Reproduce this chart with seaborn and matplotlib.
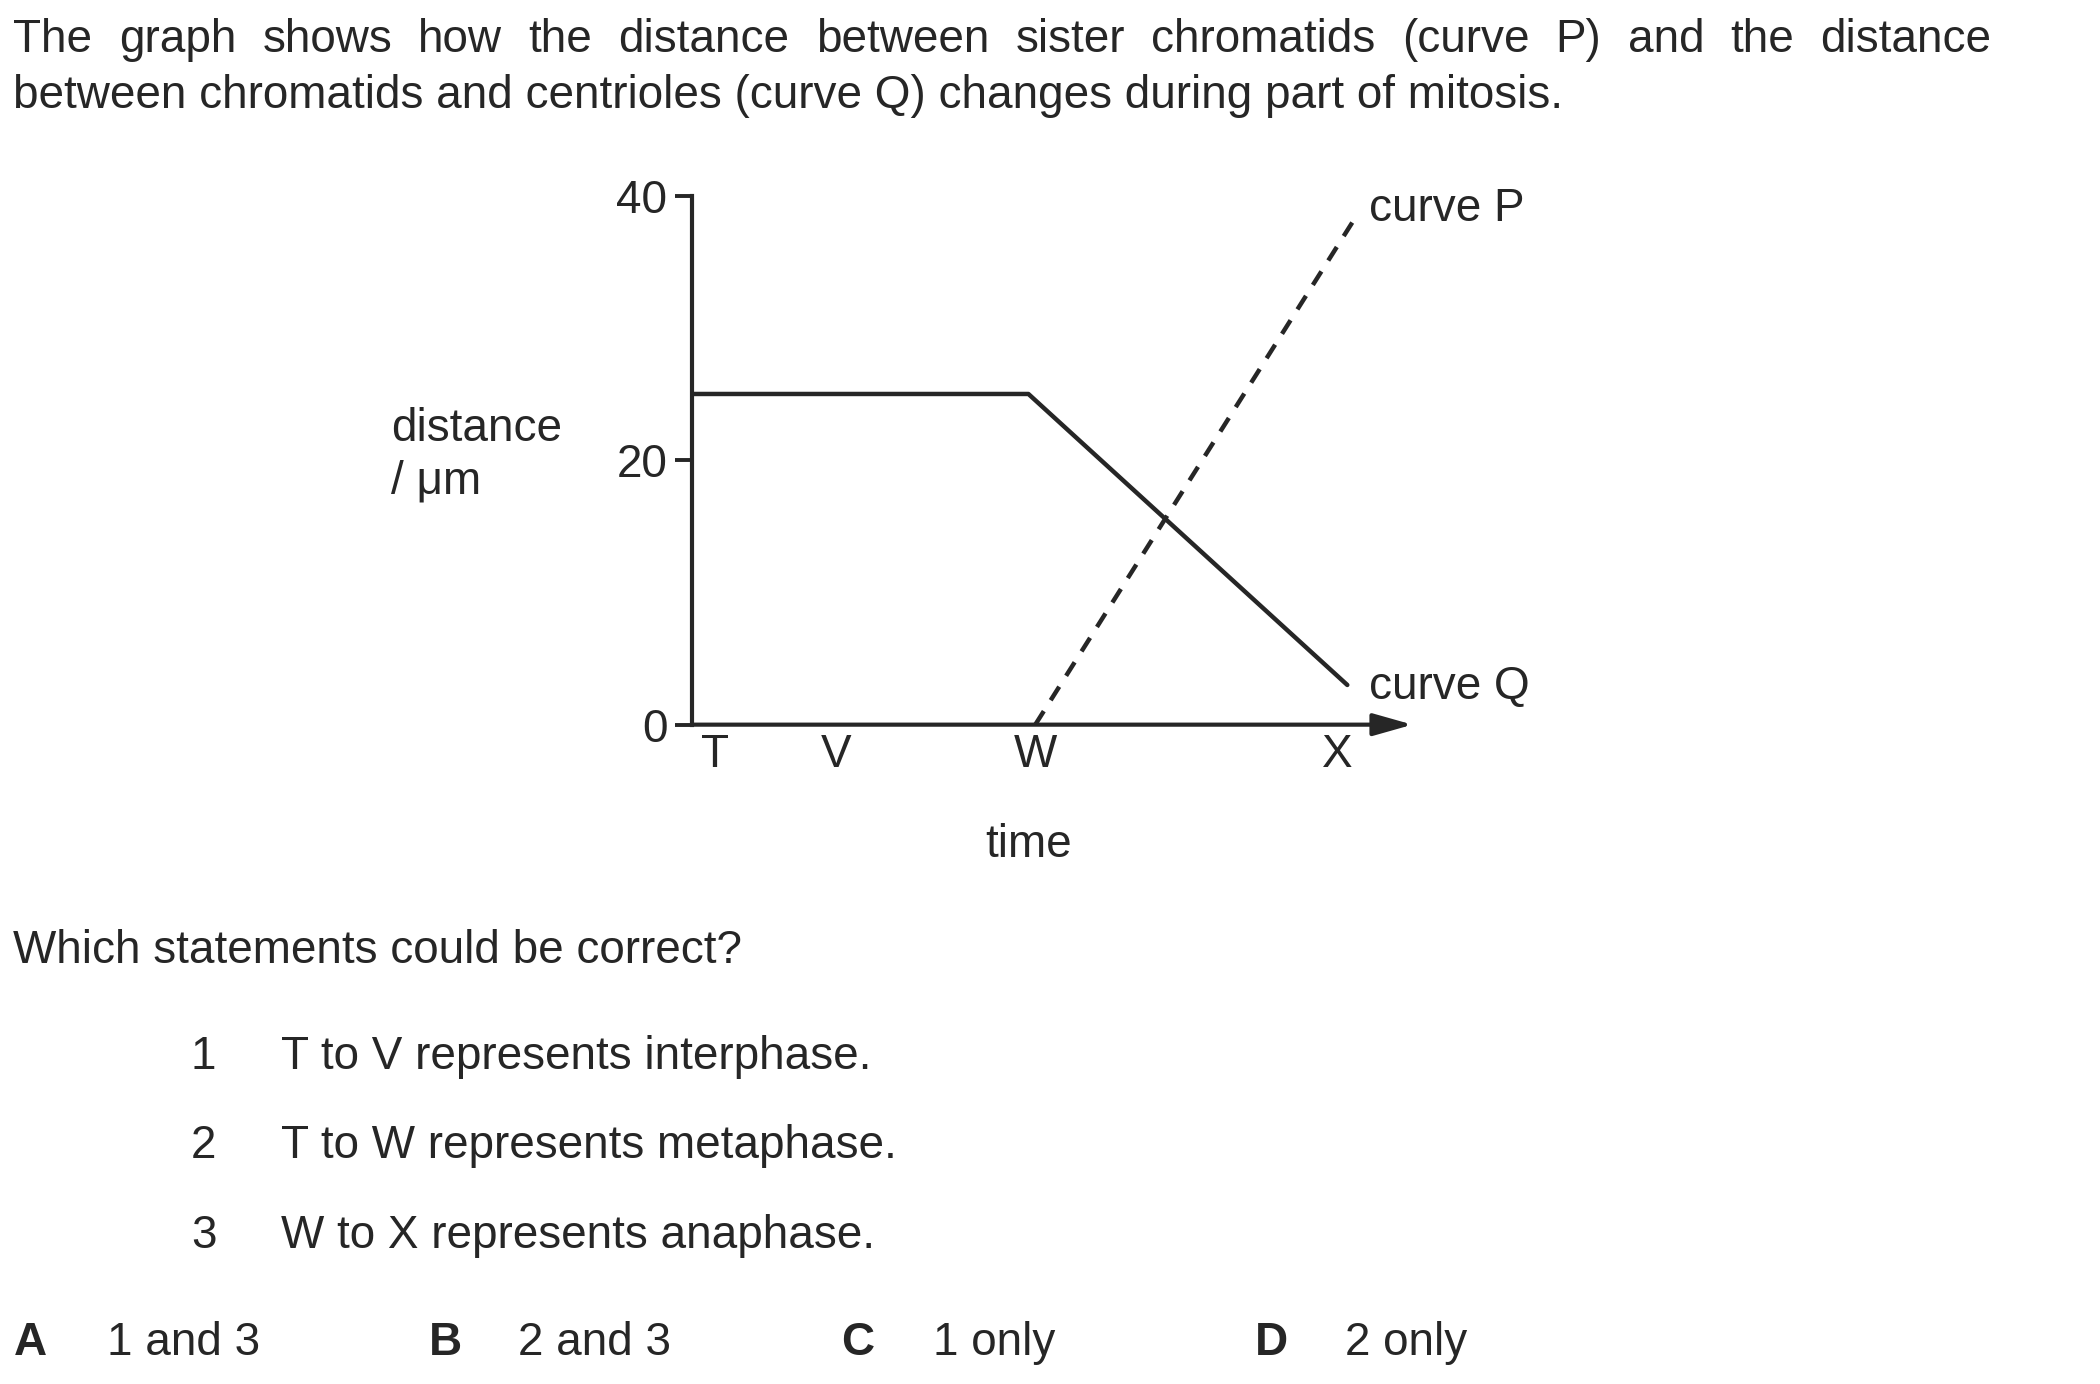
import numpy as np
import pandas as pd
import matplotlib
matplotlib.use('Agg')
import matplotlib.pyplot as plt
import seaborn as sns

sns.set_style('white')
plt.rcParams['font.family'] = ['Liberation Sans', 'DejaVu Sans']

# data (time in arbitrary units, distance in um)
time_q = [0, 9.8, 19.1]
dist_q = [25, 25, 3]
time_p = [10, 19.4]
dist_p = [0, 38.6]
stage_pos = [0.65, 4.2, 10.0, 18.8]
stage_labels = ['T', 'V', 'W', 'X']
y_ticks = [0, 20, 40]

intro = ("The graph shows how the distance between sister chromatids (curve P) and the distance",
         "between chromatids and centrioles (curve Q) changes during part of mitosis.")
question = "Which statements could be correct?"
statements = ["T to V represents interphase.",
              "T to W represents metaphase.",
              "W to X represents anaphase."]
options = [("A", "1 and 3"), ("B", "2 and 3"), ("C", "1 only"), ("D", "2 only")]

W, H = 2100, 1384
FS = 33
INK = '#262626'

fig = plt.figure(figsize=(21, 13.84), dpi=100)


def fx(px):
    return px / W


def fy(py):
    return 1 - py / H


# plot area
ax = fig.add_axes([0.3297, 0.4764, 0.3429, 0.3823])
df_q = pd.DataFrame({'time': time_q, 'dist': dist_q})
df_p = pd.DataFrame({'time': time_p, 'dist': dist_p})
sns.lineplot(data=df_q, x='time', y='dist', ax=ax, color=INK, lw=3.2, sort=False, clip_on=False)
sns.lineplot(data=df_p, x='time', y='dist', ax=ax, color=INK, lw=3.2, sort=False,
             ls=(0, (3.6, 2.9)), clip_on=False)

ax.set_xlim(0, 21)
ax.set_ylim(0, 40)
for s in ['top', 'right', 'bottom']:
    ax.spines[s].set_visible(False)
ax.spines['left'].set_color(INK)
ax.spines['left'].set_linewidth(3)

ax.set_yticks(y_ticks)
ax.set_yticklabels([str(v) for v in y_ticks])
ax.tick_params(axis='y', direction='out', length=12, width=2.8, color=INK,
               labelsize=FS, pad=6, left=True)
ax.set_xticks(stage_pos)
ax.set_xticklabels(stage_labels)
ax.tick_params(axis='x', length=0, labelsize=FS, pad=6)

# x axis drawn as an arrow
ax.annotate('', xy=(21, 0), xytext=(0, 0), xycoords='data',
            arrowprops=dict(arrowstyle='-|>,head_length=0.6,head_width=0.17',
                            lw=3, color=INK, mutation_scale=40, shrinkA=0, shrinkB=0),
            annotation_clip=False)

ax.set_xlabel('time', fontsize=FS)
ax.xaxis.set_label_coords(0.4665, -0.185)
ax.set_ylabel('distance\n/ \u03bcm', fontsize=FS, rotation=0, ha='left', va='center',
              multialignment='left', linespacing=1.25)
ax.yaxis.set_label_coords(-0.418, 0.51)

ax.text(19.73, 39.0, 'curve P', fontsize=FS, va='center', ha='left', clip_on=False)
ax.text(19.73, 2.84, 'curve Q', fontsize=FS, va='center', ha='left', clip_on=False)

# question text
S = 1.3393
renderer = fig.canvas.get_renderer()

# first line is justified
words = intro[0].split()
objs = [fig.text(0, fy(52), w, fontsize=FS, va='baseline', ha='left') for w in words]
widths = [o.get_window_extent(renderer).width for o in objs]
left, right = 10 * S, 1487 * S
gap = (right - left - sum(widths)) / (len(words) - 1)
x = left
for o, w in zip(objs, widths):
    o.set_x(fx(x))
    x += w + gap

fig.text(fx(10 * S), fy(81 * S), intro[1], fontsize=FS, va='baseline', ha='left')
fig.text(fx(10 * S), fy(719 * S), question, fontsize=FS, va='baseline', ha='left')

for i, (yc, st) in enumerate(zip([798, 865, 932], statements)):
    fig.text(fx(152 * S), fy(yc * S), str(i + 1), fontsize=FS, va='baseline', ha='center')
    fig.text(fx(210 * S), fy(yc * S), st, fontsize=FS, va='baseline', ha='left')

for (letter, txt), xl, xt in zip(options, [10, 320, 628, 937], [80, 387, 697, 1004]):
    fig.text(fx(xl * S), fy(1012 * S), letter, fontsize=FS, va='baseline', ha='left',
             fontweight='bold')
    fig.text(fx(xt * S), fy(1012 * S), txt, fontsize=FS, va='baseline', ha='left')

fig.savefig('out.png', dpi=100, facecolor='white')
